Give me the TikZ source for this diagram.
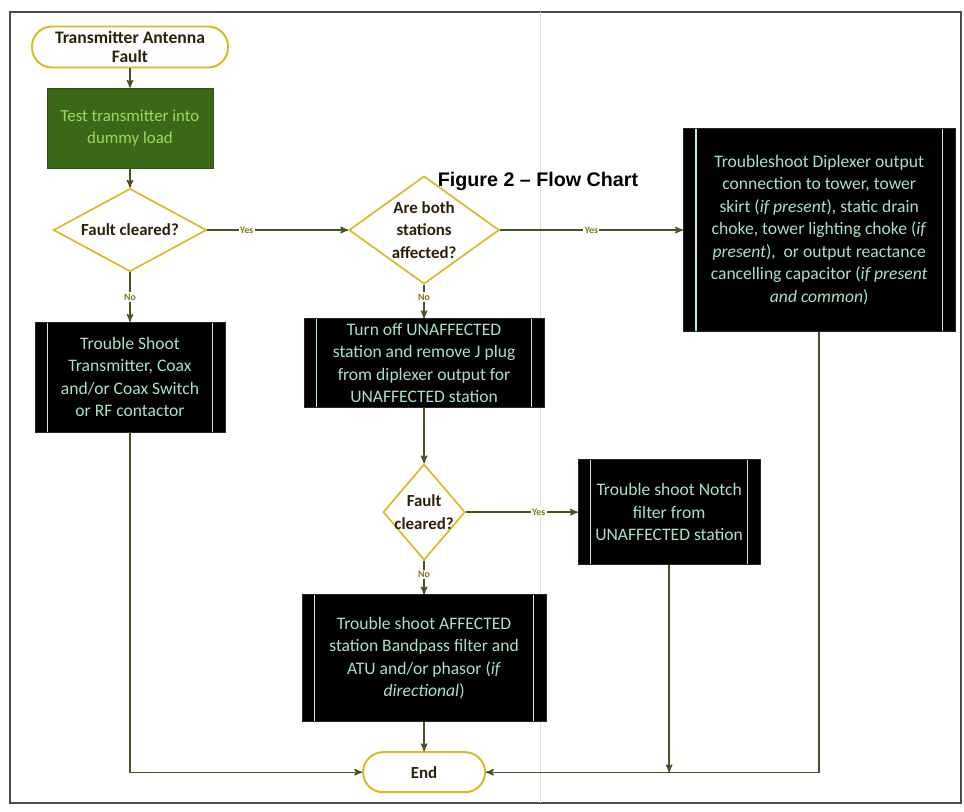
\documentclass[tikz,border=0pt]{standalone}
\usepackage{fontspec}
\setmainfont{Carlito}
\newfontfamily\titlefont{Liberation Sans}
\usetikzlibrary{arrows,shapes.geometric,positioning}

\definecolor{goldline}{RGB}{214,186,40}
\definecolor{boxtext}{RGB}{170,222,212}
\definecolor{testgreen}{RGB}{58,104,22}
\definecolor{testtext}{RGB}{160,214,96}
\definecolor{flowline}{RGB}{72,82,34}
\definecolor{answer}{RGB}{130,120,20}
\definecolor{darktext}{RGB}{45,32,10}

\begin{document}
\begin{tikzpicture}
			[x=0.025cm,y=-0.025cm,on grid,>=stealth',
			term/.style={rectangle,rounded corners=0.5cm,draw=goldline,line width=1.4pt,fill=white,
				align=center,inner sep=0pt,text=darktext,font=\bfseries\fontsize{12.5}{13.5}\selectfont},
			testbox/.style={rectangle,fill=testgreen,draw=testgreen!80!black,text=testtext,align=center,
				minimum width=4.15cm,minimum height=2cm,font=\fontsize{12}{16}\selectfont},
			decision/.style={diamond,draw=goldline,line width=1.2pt,fill=white,align=center,inner sep=-2pt,
				text=darktext,font=\bfseries\fontsize{12}{16}\selectfont},
			proc/.style={rectangle,fill=black,draw=black!85,text=boxtext,align=center,
				font=\fontsize{12.5}{16}\selectfont,
				path picture={\draw[boxtext!70!white,line width=0.8pt]
					([xshift=0.32cm]path picture bounding box.north west) -- ([xshift=0.32cm]path picture bounding box.south west)
					([xshift=-0.32cm]path picture bounding box.north east) -- ([xshift=-0.32cm]path picture bounding box.south east);}},
			flow/.style={draw=flowline,line width=1pt,->},
			ans/.style={font=\bfseries\fontsize{7}{8}\selectfont,text=answer,fill=white,inner sep=1pt}]
			
			\useasboundingbox (0,0) rectangle (964,811);
			\draw[black!70,line width=0.8pt] (10,12) rectangle (961,803);
			\draw[black!12] (540,12) -- (540,803);
			
			\node [term,minimum width=4.9cm,minimum height=1.025cm] (start) at (130,47) {Transmitter Antenna\\Fault};
			\node [testbox] (test) [below=2.025cm of start] {Test transmitter into\\dummy load};
			\node [decision,shape aspect=1.84,minimum width=3.825cm,minimum height=2.075cm] (fc1) [below=2.55cm of test] {Fault cleared?};
			\node [decision,shape aspect=1.39,minimum width=3.75cm,minimum height=2.7cm] (both) [right=7.35cm of fc1] {Are both\\stations\\affected?};
			\node [proc,minimum width=6.8cm,minimum height=5.075cm] (diplex) [right=9.875cm of both]
				{Troubleshoot Diplexer output\\connection to tower, tower\\skirt (\textit{if present}), static drain\\choke, tower lighting choke (\textit{if}\\\textit{present}),~ or output reactance\\cancelling capacitor (\textit{if present}\\\textit{and common})};
			
			\node [proc,minimum width=4.75cm,minimum height=2.75cm] (coax) [below=3.675cm of fc1]
				{Trouble Shoot\\Transmitter, Coax\\and/or Coax Switch\\or RF contactor};
			\node [proc,minimum width=6cm,minimum height=2.175cm] (turnoff) [below=3.325cm of both]
				{Turn off UNAFFECTED\\station and remove J plug\\from diplexer output for\\UNAFFECTED station};
			\node [decision,shape aspect=0.85,minimum width=2.05cm,minimum height=2.4cm] (fc2) [below=3.725cm of turnoff] {Fault\\cleared?};
			\node [proc,minimum width=4.55cm,minimum height=2.625cm] (notch) [right=6.125cm of fc2]
				{Trouble shoot Notch\\filter from\\UNAFFECTED station};
			\node [proc,minimum width=6.1cm,minimum height=3.175cm] (bandpass) [below=3.65cm of fc2]
				{Trouble shoot AFFECTED\\station Bandpass filter and\\ATU and/or phasor (\textit{if}\\\textit{directional})};
			\node [term,minimum width=3.05cm,minimum height=1cm,font=\bfseries\fontsize{12}{14}\selectfont] (end) [below=2.85cm of bandpass] {End};
			
			\node [font=\titlefont\bfseries\fontsize{14}{16}\selectfont] (title) at (538,181) {Figure 2 \textendash{} Flow Chart};
			
			% connectors
			\draw [flow] (start) -- (test);
			\draw [flow] (test) -- (fc1);
			\draw [flow] (fc1) -- node[ans,pos=0.28] {Yes} (both);
			\draw [flow] (both) -- node[ans,pos=0.5] {Yes} (diplex);
			\draw [flow] (fc1) -- node[ans,pos=0.5] {No} (coax);
			\draw [flow] (both) -- node[ans,pos=0.36] {No} (turnoff);
			\draw [flow] (turnoff) -- (fc2);
			\draw [flow] (fc2) -- node[ans,pos=0.65] {Yes} (notch);
			\draw [flow] (fc2) -- node[ans,pos=0.4] {No} (bandpass);
			\draw [flow] (bandpass) -- (end);
			\draw [flow] (coax) |- (end);
			\draw [flow] (diplex) |- (end);
			\coordinate (notchend) at (notch.south |- end.east);
			\draw [flow] (notch) -- (notchend);
			
\end{tikzpicture}
\end{document}
